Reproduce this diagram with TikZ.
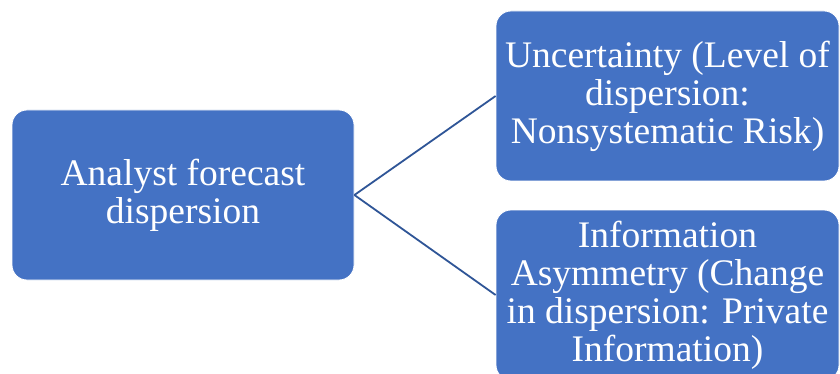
\documentclass[tikz,border=0pt]{standalone}
\usepackage{fontspec}
\setmainfont{Liberation Serif}
\definecolor{boxblue}{HTML}{4472C4}
\definecolor{linkblue}{HTML}{2F5597}
\begin{document}
\begin{tikzpicture}[x=1pt,y=-1pt,
  box/.style={rectangle, rounded corners=15pt, fill=boxblue, draw=white, line width=0.8pt,
    text=white, align=center, inner sep=0pt,
    font=\fontsize{37.5}{38}\selectfont},
  link/.style={draw=linkblue, line width=1.8pt}]
\useasboundingbox (0,0) rectangle (840,374);
\fill[white] (0,0) rectangle (840,374);
\node[box, minimum width=342pt, minimum height=170pt] (L) at (183,195) {Analyst forecast\\dispersion};
\node[box, minimum width=343pt, minimum height=170pt] (T) at (667.5,96) {Uncertainty (Level of\\dispersion:\\Nonsystematic Risk)};
\node[box, minimum width=343pt, minimum height=170pt] (B) at (667.5,295) {Information\\Asymmetry (Change\\in dispersion: Private\\Information)};
\draw[link] (L.east) -- (T.west);
\draw[link] (L.east) -- (B.west);
\end{tikzpicture}
\end{document}
